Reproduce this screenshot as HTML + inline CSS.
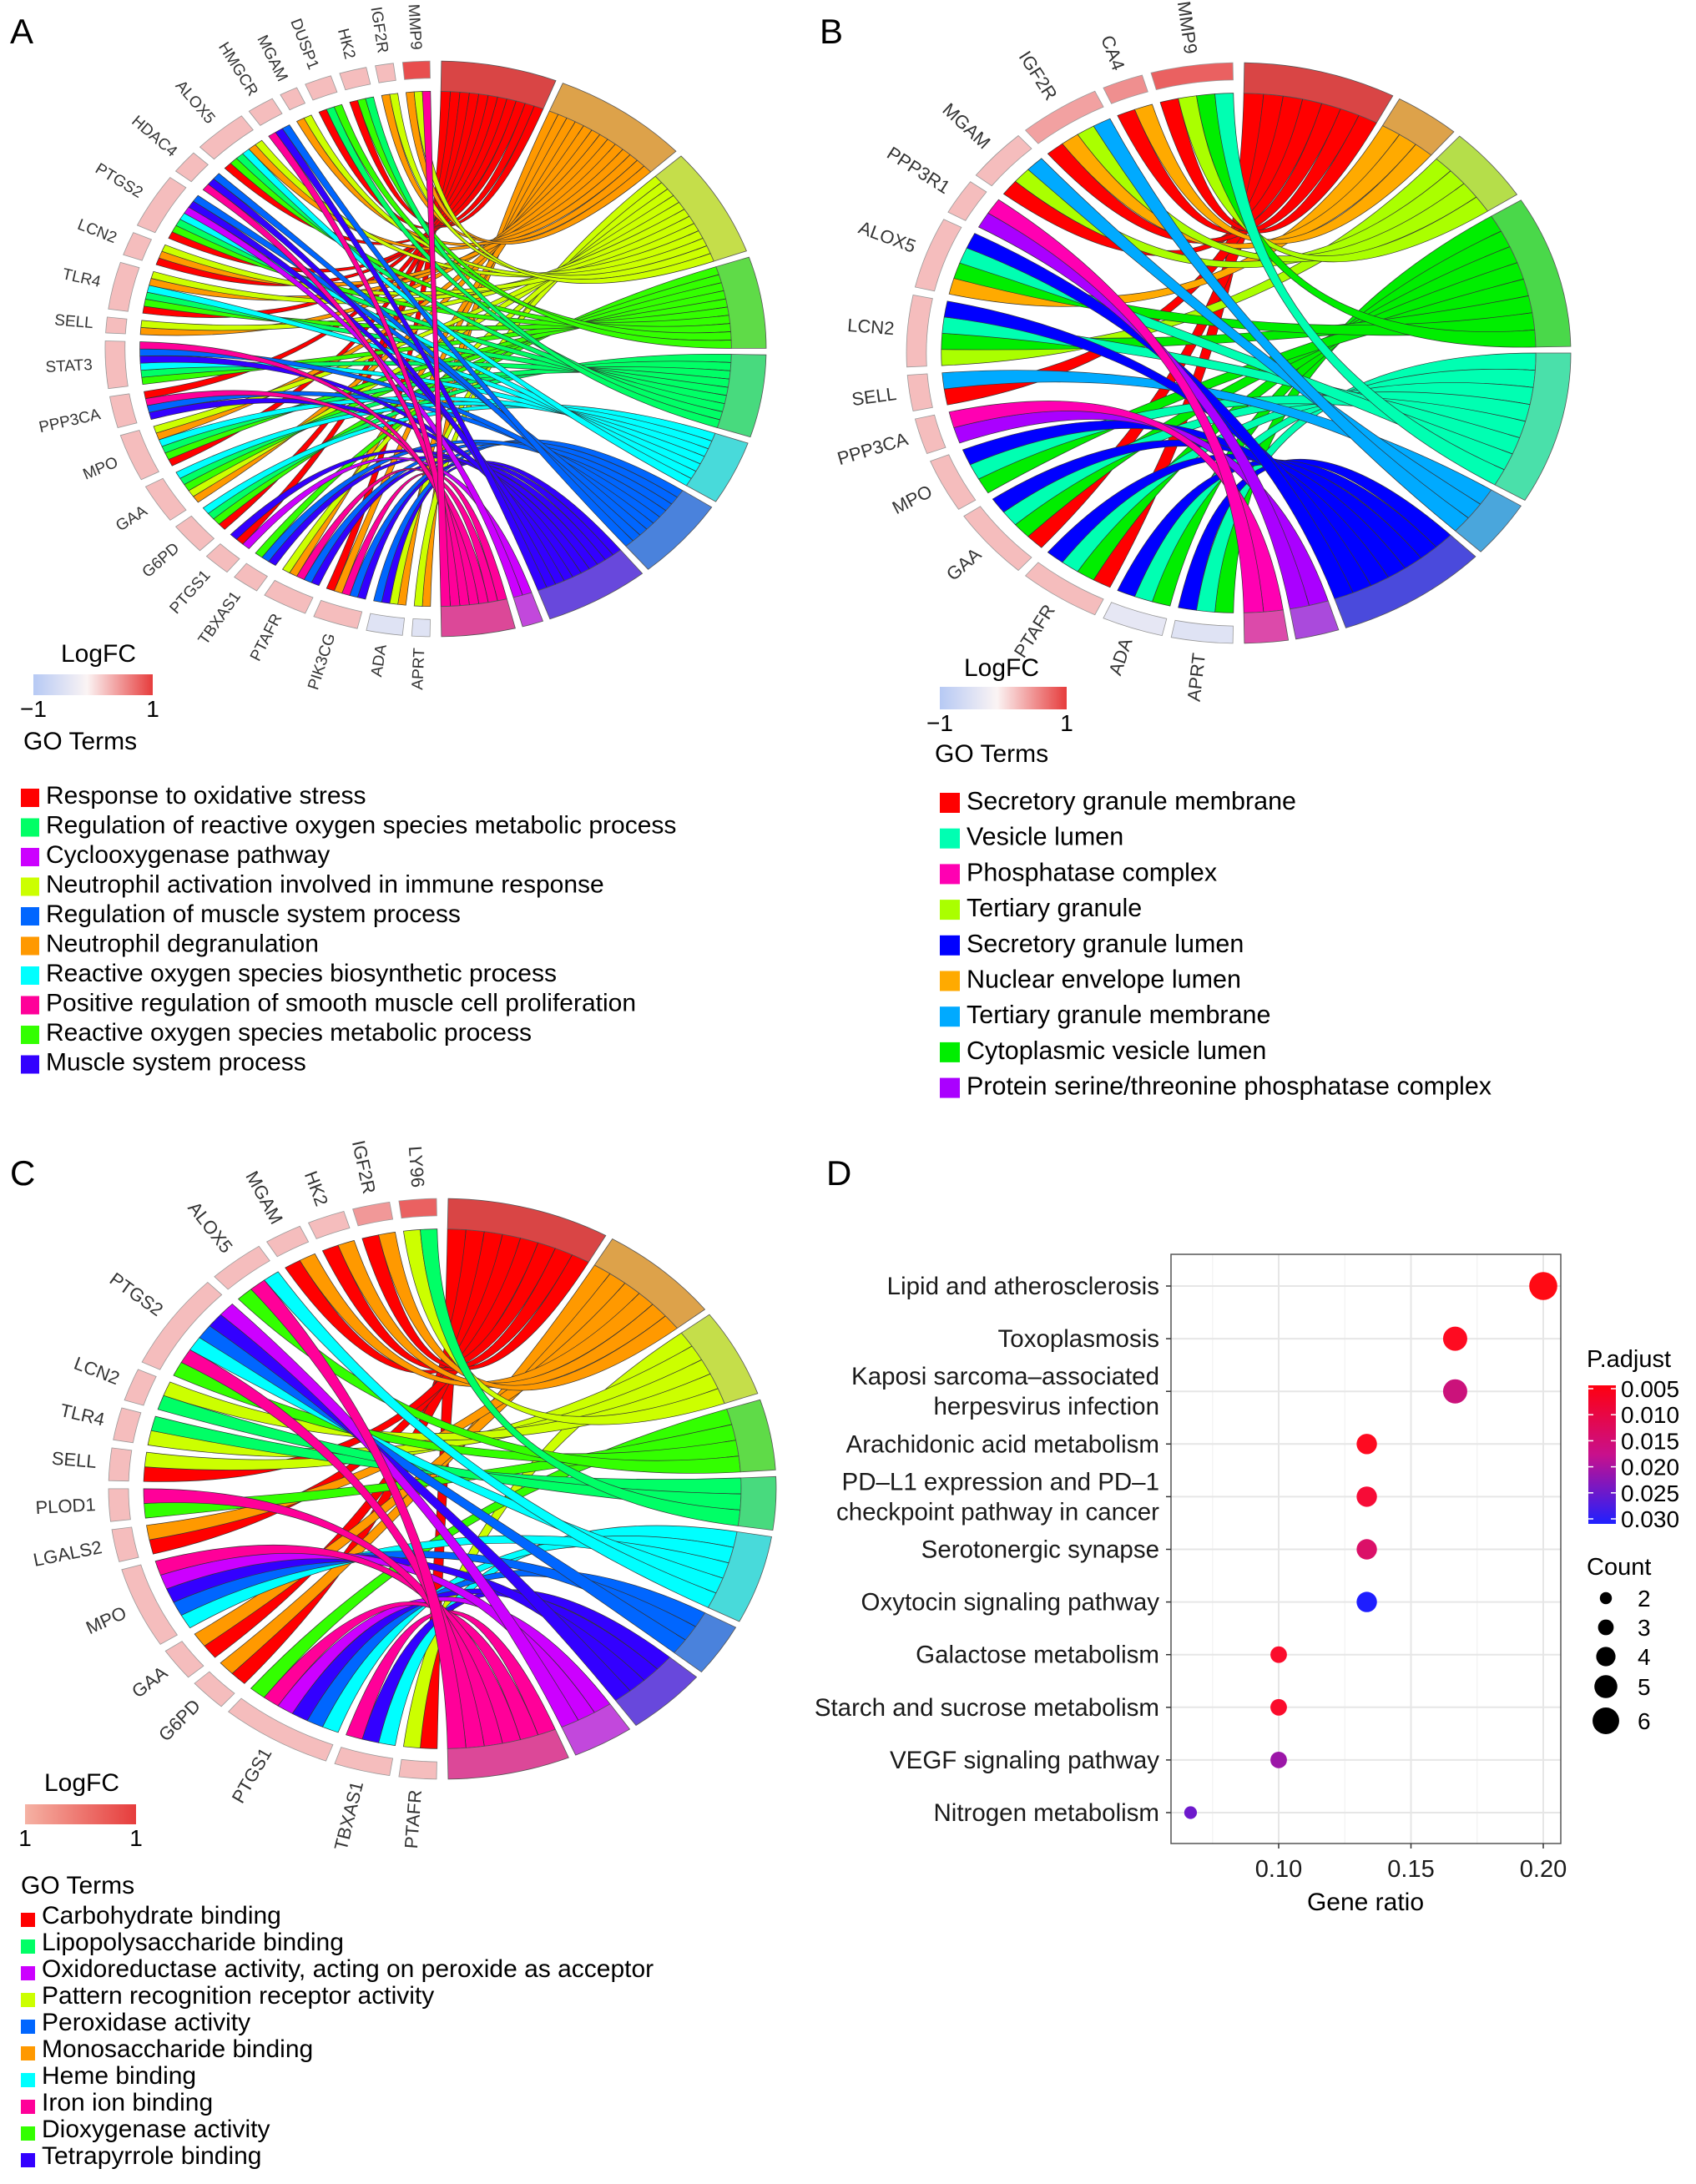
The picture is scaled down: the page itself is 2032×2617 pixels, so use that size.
<!DOCTYPE html>
<html><head><meta charset="utf-8"><style>
body{margin:0;background:#fff}
svg text{font-family:"Liberation Sans",Arial,sans-serif}
</style></head><body>
<svg id="fig" width="2032" height="2612" viewBox="0 0 2032 2612" xmlns="http://www.w3.org/2000/svg">
<text x="12" y="52" font-size="42">A</text>
<text x="982" y="52" font-size="42">B</text>
<text x="12" y="1420" font-size="42">C</text>
<text x="990" y="1420" font-size="42">D</text>
<defs>
<linearGradient id="gA" x1="0" x2="1"><stop offset="0" stop-color="#b6c9f4"/><stop offset="0.45" stop-color="#fbf4f4"/><stop offset="1" stop-color="#e63c3c"/></linearGradient>
<linearGradient id="gC" x1="0" x2="1"><stop offset="0" stop-color="#f5b2a4"/><stop offset="1" stop-color="#e63c3c"/></linearGradient>
<linearGradient id="gD" x1="0" x2="0" y1="0" y2="1"><stop offset="0" stop-color="#ff0010"/><stop offset="0.5" stop-color="#c8108c"/><stop offset="1" stop-color="#2020ff"/></linearGradient>
</defs>
<g id="chordA"></g><g id="chordB"></g><g id="chordC"></g><g id="dot"></g>
<g id="legA"></g><g id="legB"></g><g id="legC"></g>
</svg>
<script>
// ---------- Panel A data ----------
const genesA=["MMP9","IGF2R","HK2","DUSP1","MGAM","HMGCR","ALOX5","HDAC4","PTGS2","LCN2","TLR4","SELL","STAT3","PPP3CA","MPO","GAA","G6PD","PTGS1","TBXAS1","PTAFR","PIK3CG","ADA","APRT"];
const linksA=[[1,2,9],[1,2],[0,3,4],[0,4,3],[1,2],[9,7,6],[0,3,4,5,1,2],[9,7,6],[0,3,4,5,8,7,6],[0,1,2],[0,3,4,5,1,2],[1,2],[3,4,5,7,6,9],[7,6,9,0],[0,3,4,5,1,2],[1,2,3,4,5],[0,3,4,5],[8,0,7],[7,6,3],[7,6,9,1,2],[7,6,9,1,0],[1,2,7,6],[1,2]];
const logfcA=[0.9,0.3,0.3,0.3,0.3,0.3,0.3,0.3,0.3,0.3,0.3,0.3,0.3,0.3,0.3,0.3,0.3,0.3,0.3,0.3,0.3,-0.4,-0.4];
const termColA=["#ff0000","#ff9900","#ccff00","#33ff00","#00ff66","#00ffff","#0066ff","#3300ff","#cc00ff","#ff0099"];
const ringColA=["#d94545","#dda24a","#c5de4a","#5fdb48","#48da7e","#48dada","#4a82dc","#6848dc","#c248dc","#dc4898"];
const legTextA=["Response to oxidative stress","Regulation of reactive oxygen species metabolic process","Cyclooxygenase pathway","Neutrophil activation involved in immune response","Regulation of muscle system process","Neutrophil degranulation","Reactive oxygen species biosynthetic process","Positive regulation of smooth muscle cell proliferation","Reactive oxygen species metabolic process","Muscle system process"];
const legColA=["#ff0000","#00ff66","#cc00ff","#ccff00","#0066ff","#ff9900","#00ffff","#ff0099","#33ff00","#3300ff"];
// ---------- Panel B data ----------
const genesB=["MMP9","CA4","IGF2R","MGAM","PPP3R1","ALOX5","LCN2","SELL","PPP3CA","MPO","GAA","PTAFR","ADA","APRT"];
const linksB=[[0,2,3,4],[0,1],[0,1,2,5],[0,2,5],[7,8],[1,3,4,6],[2,3,4,6],[0,5],[7,8],[3,4,6],[0,3,4,6],[0,3,4,6],[3,4,6],[3,4,6]];
const logfcB=[0.8,0.55,0.45,0.3,0.3,0.3,0.3,0.3,0.3,0.3,0.3,0.3,-0.3,-0.4];
const termColB=["#ff0000","#ffaa00","#aaff00","#00ee00","#00ffb2","#00aaff","#0000ff","#aa00ff","#ff00b2"];
const ringColB=["#d94545","#dda24a","#b5de4a","#4ad84a","#4ae0aa","#4aa6dc","#4a4adc","#aa4adc","#dc4aaa"];
const legTextB=["Secretory granule membrane","Vesicle lumen","Phosphatase complex","Tertiary granule","Secretory granule lumen","Nuclear envelope lumen","Tertiary granule membrane","Cytoplasmic vesicle lumen","Protein serine/threonine phosphatase complex"];
const legColB=["#ff0000","#00ffb2","#ff00b2","#aaff00","#0000ff","#ffaa00","#00aaff","#00ee00","#aa00ff"];
// ---------- Panel C data ----------
const genesC=["LY96","IGF2R","HK2","MGAM","ALOX5","PTGS2","LCN2","TLR4","SELL","PLOD1","LGALS2","MPO","GAA","G6PD","PTGS1","TBXAS1","PTAFR"];
const linksC=[[2,4],[0,1],[0,1],[0,1],[3,9,5],[3,9,5,6,7,8],[4,2],[2,4],[0,2],[3,9],[0,1],[5,6,7,8,9],[0,1],[0,1],[5,6,7,8,9,3],[5,7,9],[0,2]];
const logfcC=[0.8,0.5,0.3,0.3,0.3,0.3,0.3,0.3,0.3,0.3,0.3,0.3,0.3,0.3,0.3,0.3,0.3];
const termColC=["#ff0000","#ff9900","#ccff00","#33ff00","#00ff66","#00ffff","#0066ff","#3300ff","#cc00ff","#ff0099"];
const ringColC=["#d94545","#dda24a","#c5de4a","#5fdb48","#48da7e","#48dada","#4a82dc","#6848dc","#c248dc","#dc4898"];
const legTextC=["Carbohydrate binding","Lipopolysaccharide binding","Oxidoreductase activity, acting on peroxide as acceptor","Pattern recognition receptor activity","Peroxidase activity","Monosaccharide binding","Heme binding","Iron ion binding","Dioxygenase activity","Tetrapyrrole binding"];
const legColC=["#ff0000","#00ff66","#cc00ff","#ccff00","#0066ff","#ff9900","#00ffff","#ff0099","#33ff00","#3300ff"];
// ---------- Panel D data ----------
const pathways=["Lipid and atherosclerosis","Toxoplasmosis","Kaposi sarcoma\u2013associated|herpesvirus infection","Arachidonic acid metabolism","PD\u2013L1 expression and PD\u20131|checkpoint pathway in cancer","Serotonergic synapse","Oxytocin signaling pathway","Galactose metabolism","Starch and sucrose metabolism","VEGF signaling pathway","Nitrogen metabolism"];
const geneRatio=[0.2,0.1667,0.1667,0.1333,0.1333,0.1333,0.1333,0.1,0.1,0.1,0.0667];
const counts=[6,5,5,4,4,4,4,3,3,3,2];
const padj=[0.004,0.006,0.015,0.006,0.008,0.013,0.030,0.007,0.007,0.020,0.024];
const xTicks=[0.10,0.15,0.20];
const padjTicks=[0.005,0.010,0.015,0.020,0.025,0.030];
const countTicks=[2,3,4,5,6];

const NS="http://www.w3.org/2000/svg";
function mk(tag,attrs,parent){const e=document.createElementNS(NS,tag);for(const k in attrs)e.setAttribute(k,attrs[k]);parent.appendChild(e);return e;}
function geneColor(v){
  const lerp=(a,b,t)=>Math.round(a+(b-a)*t);
  if(v<0){const t=-v;return `rgb(${lerp(251,182,t)},${lerp(244,201,t)},${lerp(244,244,t)})`;}
  return `rgb(${lerp(251,230,v)},${lerp(244,60,v)},${lerp(244,60,v)})`;
}
function chord(gid,cx,cy,rx,ry,genes,links,logfc,termCol,ringCol,fs){
  const g=document.getElementById(gid);
  const P=(a,r)=>{const t=a*Math.PI/180;return [cx+rx*r*Math.sin(t),cy-ry*r*Math.cos(t)];};
  const f=p=>p[0].toFixed(1)+","+p[1].toFixed(1);
  const arc=(a1,a2,r,sw)=>{const p=P(a2,r);return `A${(rx*r).toFixed(1)},${(ry*r).toFixed(1)} 0 ${Math.abs(a2-a1)>180?1:0} ${sw} ${f(p)}`;};
  const nT=termCol.length, gap=1.3, gGap=1.6;
  const tCount=new Array(nT).fill(0); let total=0;
  links.forEach(l=>l.forEach(t=>{tCount[t]++;total++;}));
  const tu=(178-(nT-1)*gap)/total, gu=(178-(genes.length-1)*gGap)/total;
  const tStart=[];let a=1;
  for(let t=0;t<nT;t++){tStart.push(a);a+=tCount[t]*tu+gap;}
  const tPos=tStart.map(s=>s+0);
  let ga=359;const segs=[];
  genes.forEach((name,i)=>{
    const w=links[i].length*gu, hi=ga, lo=ga-w;
    segs.push([lo,hi]); ga=lo-gGap;
  });
  const ribbons=[];
  for(let i=genes.length-1;i>=0;i--){
    links[i].forEach((t,k)=>{
      const glo=segs[i][0]+k*gu, ghi=glo+gu;
      const tlo=tPos[t], thi=tlo+tu; tPos[t]+=tu;
      ribbons.push({i,t,glo,ghi,tlo,thi});
    });
  }
  const R=0.895, C=[cx,cy];
  ribbons.forEach(r=>{
    const d=`M${f(P(r.glo,R))} ${arc(r.glo,r.ghi,R,1)} Q${f(C)} ${f(P(r.tlo,R))} ${arc(r.tlo,r.thi,R,1)} Q${f(C)} ${f(P(r.glo,R))}Z`;
    const p=mk("path",{d,fill:termCol[r.t],stroke:"#333","stroke-width":"0.7"},g);
    
    
  });
  const ring=(lo,hi,r0,r1)=>`M${f(P(lo,r1))} ${arc(lo,hi,r1,1)} L${f(P(hi,r0))} ${arc(hi,lo,r0,0)}Z`;
  for(let t=0;t<nT;t++){
    const lo=tStart[t], hi=lo+tCount[t]*tu;
    const p=mk("path",{d:ring(lo,hi,0.895,1.0),fill:ringCol[t],stroke:"#555","stroke-width":"0.8"},g);
    
    
    for(let k=1;k<tCount[t];k++){const aa=lo+k*tu;mk("path",{d:`M${f(P(aa,0.895))}L${f(P(aa,0.86))}`,stroke:"#333","stroke-width":"0.6"},g);}
  }
  genes.forEach((name,i)=>{
    const [lo,hi]=segs[i];
    const p=mk("path",{d:ring(lo,hi,0.94,1.0),fill:geneColor(logfc[i]),stroke:"#999","stroke-width":"0.8"},g);
    
    
    const m=(lo+hi)/2, q=P(m,1.04);
    const tx=mk("text",{x:q[0].toFixed(1),y:q[1].toFixed(1),"font-size":fs,"text-anchor":"end","dominant-baseline":"middle",fill:"#333",transform:`rotate(${(m-270).toFixed(1)} ${q[0].toFixed(1)} ${q[1].toFixed(1)})`},g);
    tx.textContent=name;
    
    
  });
}
chord("chordA",522,418,396,345,genesA,linksA,logfcA,termColA,ringColA,19);
chord("chordB",1484,423,398,348,genesB,linksB,logfcB,termColB,ringColB,22);
chord("chordC",530,1784,400,348,genesC,linksC,logfcC,termColC,ringColC,22);

function legend(gid,o){
  const g=document.getElementById(gid);
  let t=mk("text",{x:o.lx,y:o.ly,"font-size":o.tfs},g);t.textContent="LogFC";
  
  const r=mk("rect",{x:o.bx,y:o.by,width:o.bw,height:o.bh,fill:o.grad},g);
  
  t=mk("text",{x:o.bx,y:o.by+o.bh+26,"font-size":o.tfs-2,"text-anchor":"middle"},g);t.textContent=o.minl;
  
  t=mk("text",{x:o.bx+o.bw,y:o.by+o.bh+26,"font-size":o.tfs-2,"text-anchor":"middle"},g);t.textContent="1";
  
  t=mk("text",{x:o.gx,y:o.gy,"font-size":o.tfs},g);t.textContent="GO Terms";
  
  o.texts.forEach((s,i)=>{
    const y=o.iy+i*o.sp;
    const q=mk("rect",{x:o.sx,y:y-o.sq+4,width:o.sq,height:o.sq,fill:o.cols[i]},g);
    
    const tt=mk("text",{x:o.sx+o.sq+8,y:y,"font-size":o.fs},g);tt.textContent=s;
    
  });
}
legend("legA",{lx:73,ly:793,tfs:30,bx:40,by:808,bw:143,bh:25,grad:"url(#gA)",minl:"\u22121",gx:28,gy:898,texts:legTextA,cols:legColA,iy:963,sp:35.5,sx:25,sq:22,fs:30});
legend("legB",{lx:1155,ly:810,tfs:30,bx:1126,by:823,bw:152,bh:27,grad:"url(#gA)",minl:"\u22121",gx:1120,gy:913,texts:legTextB,cols:legColB,iy:970,sp:42.7,sx:1126,sq:24,fs:30.5});
legend("legC",{lx:53,ly:2146,tfs:30,bx:30,by:2162,bw:133,bh:24,grad:"url(#gC)",minl:"1",gx:25,gy:2269,texts:legTextC,cols:legColC,iy:2305,sp:32,sx:25,sq:17,fs:30});

// ---------- Dot plot ----------
(function(){
  const g=document.getElementById("dot");
  const L=1403,Rr=1870,T=1503,B=2209;
  const x=v=>1532+(v-0.10)*3170;
  const y=i=>1541+i*63.1;
  const rad=c=>3+2.3*c;
  const col=p=>{let t=Math.max(0,Math.min(1,(p-0.005)/0.025));
    const r=Math.round(255-225*Math.pow(t,1.6)), gg=Math.round(10+20*t), b=Math.round(20+235*Math.pow(t,0.9));
    return `rgb(${r},${gg},${b})`;};
  [0.075,0.125,0.175].forEach(v=>mk("line",{x1:x(v),x2:x(v),y1:T,y2:B,stroke:"#f4f4f4","stroke-width":1.5},g));
  xTicks.forEach(v=>mk("line",{x1:x(v),x2:x(v),y1:T,y2:B,stroke:"#e6e6e6","stroke-width":2},g));
  pathways.forEach((_,i)=>mk("line",{x1:L,x2:Rr,y1:y(i),y2:y(i),stroke:"#e6e6e6","stroke-width":2},g));
  const fr=mk("rect",{x:L,y:T,width:Rr-L,height:B-T,fill:"none",stroke:"#555","stroke-width":1.5},g);
  
  pathways.forEach((s,i)=>{
    mk("line",{x1:L-6,x2:L,y1:y(i),y2:y(i),stroke:"#333","stroke-width":1.5},g);
    const parts=s.split("|");
    parts.forEach((ps,k)=>{
      const yy=y(i)+10+(parts.length>1?(k===0?-18:18):0);
      const t=mk("text",{x:L-14,y:yy,"font-size":29.5,"text-anchor":"end",fill:"#1a1a1a"},g);t.textContent=ps;
      
    });
    const c=mk("circle",{cx:x(geneRatio[i]),cy:y(i),r:rad(counts[i]),fill:col(padj[i])},g);
    
  });
  xTicks.forEach(v=>{
    mk("line",{x1:x(v),x2:x(v),y1:B,y2:B+6,stroke:"#333","stroke-width":1.5},g);
    const t=mk("text",{x:x(v),y:2249,"font-size":29,"text-anchor":"middle",fill:"#1a1a1a"},g);t.textContent=v.toFixed(2);
    
  });
  let t=mk("text",{x:1636,y:2289,"font-size":30,"text-anchor":"middle"},g);t.textContent="Gene ratio";
  
  t=mk("text",{x:1901,y:1638,"font-size":29},g);t.textContent="P.adjust";
  
  const cb=mk("rect",{x:1903,y:1660,width:33,height:166,fill:"url(#gD)"},g);
  
  padjTicks.forEach(p=>{
    const yy=1664+(p-0.005)/0.025*156;
    mk("line",{x1:1903,x2:1909,y1:yy,y2:yy,stroke:"#fff","stroke-width":1.5},g);
    mk("line",{x1:1930,x2:1936,y1:yy,y2:yy,stroke:"#fff","stroke-width":1.5},g);
    const tt=mk("text",{x:1942,y:yy+10,"font-size":28},g);tt.textContent=p.toFixed(3);
    
  });
  t=mk("text",{x:1901,y:1887,"font-size":29},g);t.textContent="Count";
  
  const cy=[1915,1950,1985,2021,2062];
  countTicks.forEach((c,k)=>{
    const ci=mk("circle",{cx:1924,cy:cy[k],r:rad(c)*0.95,fill:"#000"},g);
    
    const tt=mk("text",{x:1962,y:cy[k]+10,"font-size":28},g);tt.textContent=c;
    
  });
})();
</script>
</body></html>
